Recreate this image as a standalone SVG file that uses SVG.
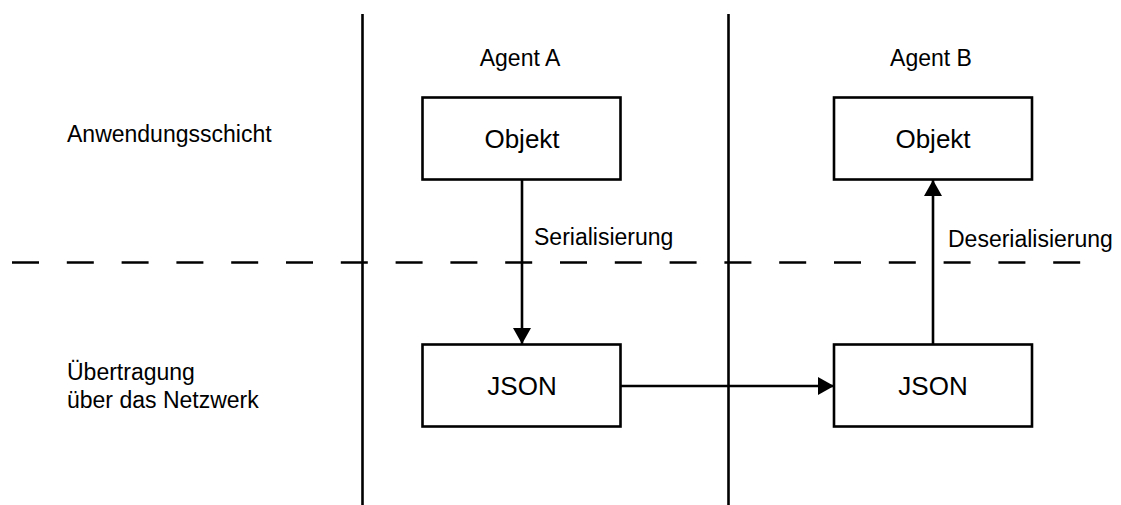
<svg xmlns="http://www.w3.org/2000/svg" width="1121" height="505" viewBox="0 0 1121 505">
  <style>
    .txt { font-family: "Liberation Sans", Arial, sans-serif; font-size: 23px; fill: #000; }
    .box { fill: #fff; stroke: #000; stroke-width: 2.6; }
    .lbl { font-family: "Liberation Sans", Arial, sans-serif; font-size: 26px; fill: #000; text-anchor: middle; }
    .sep { stroke: #000; stroke-width: 2.6; fill: none; }
    .conn { stroke: #000; stroke-width: 2.6; fill: none; marker-end: url(#arrow); }
  </style>
  <defs>
    <marker id="arrow" viewBox="0 0 16 18" refX="16" refY="9" markerWidth="16" markerHeight="18" markerUnits="userSpaceOnUse" orient="auto">
      <path d="M0,0 L16,9 L0,18 Z" fill="#000"/>
    </marker>
  </defs>
  <rect width="1121" height="505" fill="#fff"/>

  <g id="separators">
    <line class="sep" x1="362.5" y1="14" x2="362.5" y2="505"/>
    <line class="sep" x1="728.5" y1="14" x2="728.5" y2="505"/>
    <line class="sep" x1="12" y1="262.5" x2="1082" y2="262.5" stroke-dasharray="27 27.8"/>
  </g>

  <g id="labels">
    <text class="txt" x="520" y="66" text-anchor="middle">Agent A</text>
    <text class="txt" x="931" y="66" text-anchor="middle">Agent B</text>
    <text class="txt" x="67" y="142">Anwendungsschicht</text>
    <text class="txt" x="67" y="380">Übertragung</text>
    <text class="txt" x="67" y="408">über das Netzwerk</text>
  </g>

  <g id="connectors">
    <line class="conn" x1="522" y1="179" x2="522" y2="344"/>
    <line class="conn" x1="621" y1="386" x2="834" y2="386"/>
    <line class="conn" x1="933" y1="344" x2="933" y2="180"/>
    <text class="txt" x="534" y="245">Serialisierung</text>
    <text class="txt" x="948" y="247">Deserialisierung</text>
  </g>

  <g id="objektA">
    <rect class="box" x="422.5" y="97.5" width="198" height="82"/>
    <text class="lbl" x="522" y="148">Objekt</text>
  </g>
  <g id="objektB">
    <rect class="box" x="834" y="97.5" width="198" height="82"/>
    <text class="lbl" x="933" y="148">Objekt</text>
  </g>
  <g id="jsonA">
    <rect class="box" x="422.5" y="344.5" width="198" height="82"/>
    <text class="lbl" x="522" y="395">JSON</text>
  </g>
  <g id="jsonB">
    <rect class="box" x="834" y="344.5" width="198" height="82"/>
    <text class="lbl" x="933" y="395">JSON</text>
  </g>
</svg>
